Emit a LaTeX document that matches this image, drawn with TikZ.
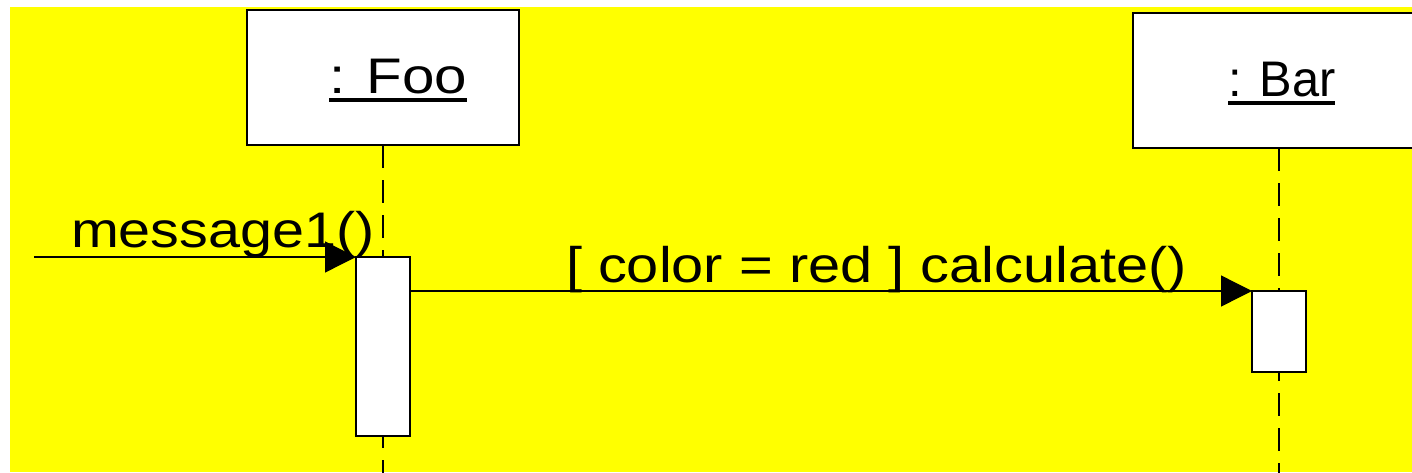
\documentclass[tikz,border=0pt]{standalone}
\usepackage{fontspec}
\setmainfont{Liberation Sans}
\usetikzlibrary{arrows.meta}
\begin{document}
\begin{tikzpicture}[x=1pt,y=-1pt,
  objbox/.style={draw=black, fill=white, line width=1.5pt, inner sep=0pt, outer sep=0pt, anchor=north west},
  actbox/.style={draw=black, fill=white, line width=1.4pt, inner sep=0pt, outer sep=0pt, anchor=north west},
  lifeline/.style={draw=black, line width=1.2pt, dash pattern=on 23pt off 12pt},
  msg/.style={draw=black, line width=1.3pt, -{Triangle[length=31pt,width=31pt]}},
  lbl/.style={inner sep=0pt, outer sep=0pt, anchor=base west, font=\fontsize{50}{60}\selectfont},
  uline/.style={line width=3.5pt}]
\useasboundingbox (0,0) rectangle (1412,472);
\begin{scope}
\clip (0,0) rectangle (1412,472);
\fill[fill={rgb,255:red,255;green,255;blue,0}] (10,7) rectangle (1412,472);
% object boxes
\node[objbox, minimum width=272pt, minimum height=135pt] (foo) at (247,10) {};
\node[objbox, minimum width=292pt, minimum height=135pt] (bar) at (1133,13) {};
% lifelines
\draw[lifeline] (foo.south) -- ++(0,340);
\draw[lifeline] (bar.south) -- ++(0,340);
% activations
\node[actbox, minimum width=54pt, minimum height=179pt] (fooact) at (356,257) {};
\node[actbox, minimum width=54pt, minimum height=81pt] (baract) at (1252,291) {};
% labels
\node[lbl] (foolbl) at (329,93) {\scalebox{1.167}[1]{: Foo}};
\draw[uline] ([yshift=-7pt]foolbl.base west) -- ([yshift=-7pt]foolbl.base east);
\node[lbl] (barlbl) at (1228,96) {\scalebox{0.975}[1]{: Bar}};
\draw[uline] ([yshift=-7pt]barlbl.base west) -- ([yshift=-7pt]barlbl.base east);
% messages
\coordinate (start) at (34,257);
\draw[msg] (start) -- (fooact.north west);
\node[lbl] (msg1lbl) at (71,247) {\scalebox{1.15}[1]{message1()}};
\draw[msg] (baract.north west -| fooact.east) -- (baract.north west);
\node[lbl] (calclbl) at (566,282) {\scalebox{1.155}[1]{[ color = red ] calculate()}};
\end{scope}
\end{tikzpicture}
\end{document}
